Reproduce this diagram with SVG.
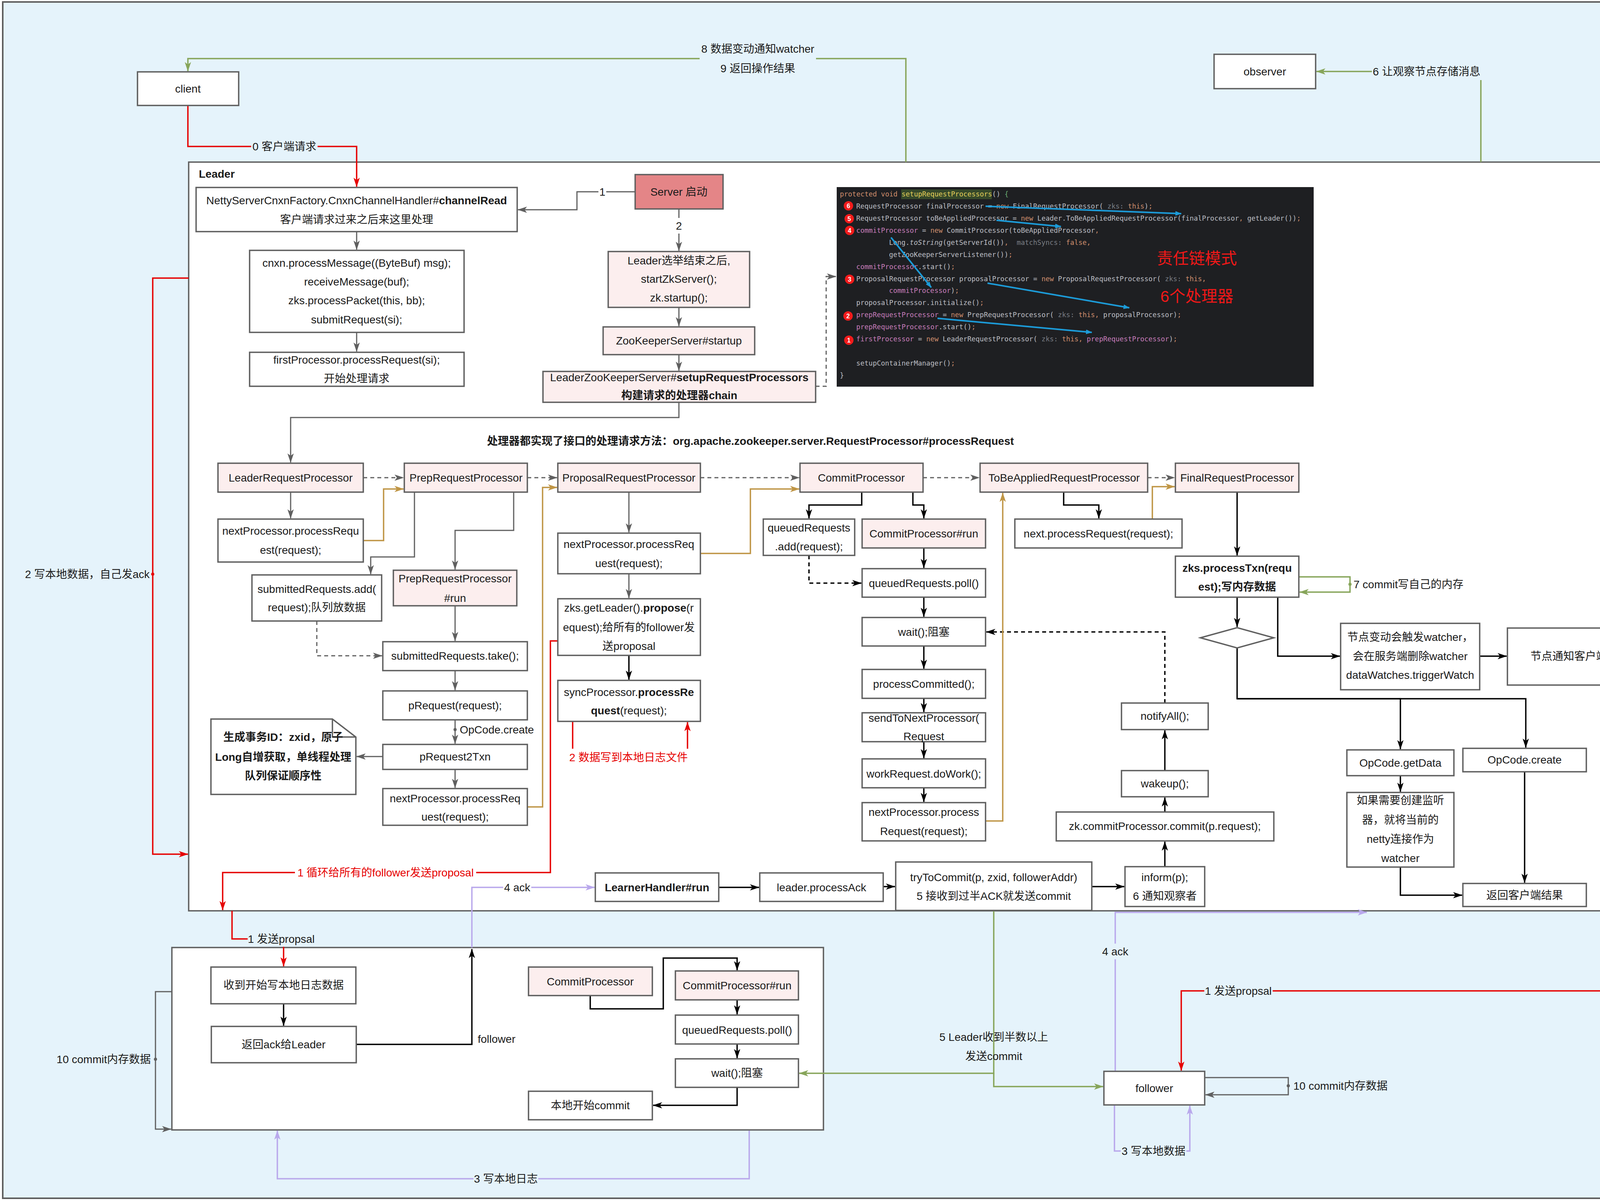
<svg xmlns="http://www.w3.org/2000/svg" width="4382" height="3075" viewBox="0 0 4382 3075">
<style>
.b{fill:#fff;stroke:#5F5F5F;stroke-width:3.5}
.p{fill:#FCEEEE;stroke:#5F5F5F;stroke-width:3.5}
.t{font-family:"Liberation Sans","Noto Sans CJK SC",sans-serif;font-size:28px;fill:#1a1a1a;text-anchor:middle;dominant-baseline:central}
.l{text-anchor:start}
.r{text-anchor:end}
.bd{font-weight:bold}
.red{fill:#E60000}
.cg{stroke:#5F5F5F;stroke-width:3;fill:none}
.ck{stroke:#000;stroke-width:3.5;fill:none}
.cr{stroke:#E60000;stroke-width:3.5;fill:none}
.co{stroke:#BF9545;stroke-width:3.5;fill:none}
.cn{stroke:#87A55A;stroke-width:3.5;fill:none}
.cp{stroke:#B9A8EC;stroke-width:3.5;fill:none}
.cb{stroke:#1C9BD8;stroke-width:4;fill:none}
.d{stroke-dasharray:10 8}
.bgb{fill:#E5F3FB}
.bgw{fill:#fff}
.code{font-family:"DejaVu Sans Mono","Liberation Mono",monospace;font-size:17.5px;fill:#BCBEC4;dominant-baseline:central}
.kw{fill:#CF8E6D}
.fd{fill:#C77DBB}
.hn{fill:#7A7E85}
.mt{fill:#E3CF5A}
.it{font-style:italic}
</style>
<defs>
<marker id="mg" viewBox="0 0 24 16" refX="23" refY="8" markerWidth="24" markerHeight="16" markerUnits="userSpaceOnUse" orient="auto"><path d="M0,0 L24,8 L0,16 L6,8 Z" fill="#5F5F5F"/></marker>
<marker id="mk" viewBox="0 0 24 16" refX="23" refY="8" markerWidth="24" markerHeight="16" markerUnits="userSpaceOnUse" orient="auto"><path d="M0,0 L24,8 L0,16 L6,8 Z" fill="#000"/></marker>
<marker id="mr" viewBox="0 0 24 16" refX="23" refY="8" markerWidth="24" markerHeight="16" markerUnits="userSpaceOnUse" orient="auto"><path d="M0,0 L24,8 L0,16 L6,8 Z" fill="#E60000"/></marker>
<marker id="mo" viewBox="0 0 24 16" refX="23" refY="8" markerWidth="24" markerHeight="16" markerUnits="userSpaceOnUse" orient="auto"><path d="M0,0 L24,8 L0,16 L6,8 Z" fill="#BF9545"/></marker>
<marker id="mn" viewBox="0 0 24 16" refX="23" refY="8" markerWidth="24" markerHeight="16" markerUnits="userSpaceOnUse" orient="auto"><path d="M0,0 L24,8 L0,16 L6,8 Z" fill="#87A55A"/></marker>
<marker id="mp" viewBox="0 0 24 16" refX="23" refY="8" markerWidth="24" markerHeight="16" markerUnits="userSpaceOnUse" orient="auto"><path d="M0,0 L24,8 L0,16 L6,8 Z" fill="#B9A8EC"/></marker>
<marker id="mb" viewBox="0 0 16 12" refX="15" refY="6" markerWidth="16" markerHeight="12" markerUnits="userSpaceOnUse" orient="auto"><path d="M0,0 L16,6 L0,12 Z" fill="#1C9BD8"/></marker>
</defs>

<g id="frame">
<rect x="7" y="5" width="4368" height="3063" fill="#E5F3FB" stroke="#5F5F5F" stroke-width="4"/>
</g>
<g id="leader">
<rect x="483" y="415" width="3670" height="1917" class="b"/>
<text x="509" y="445" class="t l bd">Leader</text>
</g>
<g id="followerBox">
<rect x="440" y="2426" width="1668" height="467" class="b"/>
</g>

<g id="connectors">
<!-- gray -->
<path class="cg" d="M913,593 V639" marker-end="url(#mg)"/>
<path class="cg" d="M913,851 V900" marker-end="url(#mg)"/>
<path class="cg" d="M1626,491 H1477 V537 H1326" marker-end="url(#mg)"/>
<rect x="1532" y="471" width="20" height="40" class="bgw"/>
<text x="1542" y="491" class="t">1</text>
<path class="cg" d="M1738,535 V642" marker-end="url(#mg)"/>
<rect x="1727" y="558" width="22" height="40" class="bgw"/>
<text x="1738" y="578" class="t">2</text>
<path class="cg" d="M1738,787 V835" marker-end="url(#mg)"/>
<path class="cg" d="M1738,908 V949" marker-end="url(#mg)"/>
<path class="cg" d="M1738,1030 V1069 H744 V1184" marker-end="url(#mg)"/>
<path class="cg" d="M744,1260 V1327" marker-end="url(#mg)"/>
<path class="cg" d="M1061,1260 V1426 H949 V1470" marker-end="url(#mg)"/>
<path class="cg" d="M1315,1260 V1358 H1165 V1458" marker-end="url(#mg)"/>
<path class="cg" d="M1165,1551 V1641" marker-end="url(#mg)"/>
<path class="cg" d="M1165,1717 V1767" marker-end="url(#mg)"/>
<path class="cg" d="M1165,1843 V1904" marker-end="url(#mg)"/>
<circle cx="1165" cy="1868" r="4" fill="#5F5F5F"/>
<text x="1177" y="1868" class="t l">OpCode.create</text>
<path class="cg" d="M980,1937 H913" marker-end="url(#mg)"/>
<path class="cg" d="M1165,1970 V2017" marker-end="url(#mg)"/>
<path class="cg" d="M1610,1260 V1363" marker-end="url(#mg)"/>
<path class="cg" d="M1610,1469 V1531" marker-end="url(#mg)"/>
<path class="cg d" d="M930,1223 H1033" marker-end="url(#mg)"/>
<path class="cg d" d="M1350,1223 H1426" marker-end="url(#mg)"/>
<path class="cg d" d="M1793,1223 H2046" marker-end="url(#mg)"/>
<path class="cg d" d="M2363,1223 H2507" marker-end="url(#mg)"/>
<path class="cg d" d="M2938,1223 H3007" marker-end="url(#mg)"/>
<path class="cg d" d="M811,1590 V1679 H978" marker-end="url(#mg)"/>
<path class="cg d" d="M2088,989 H2115 V708 H2140" marker-end="url(#mg)"/>
<!-- black -->
<path class="ck" d="M1610,1678 V1740" marker-end="url(#mk)"/>
<path class="ck" d="M2206,1260 V1293 H2071 V1327" marker-end="url(#mk)"/>
<path class="ck" d="M2337,1260 V1293 H2365 V1327" marker-end="url(#mk)"/>
<path class="ck" d="M2365,1403 V1454" marker-end="url(#mk)"/>
<path class="ck" d="M2365,1529 V1579" marker-end="url(#mk)"/>
<path class="ck" d="M2365,1654 V1712" marker-end="url(#mk)"/>
<path class="ck" d="M2365,1788 V1823" marker-end="url(#mk)"/>
<path class="ck" d="M2365,1899 V1941" marker-end="url(#mk)"/>
<path class="ck" d="M2365,2017 V2053" marker-end="url(#mk)"/>
<path class="ck d" d="M2071,1422 V1493 H2205" marker-end="url(#mk)"/>
<path class="ck d" d="M2982,1800 V1618 H2525" marker-end="url(#mk)"/>
<path class="ck" d="M2982,1973 V1870" marker-end="url(#mk)"/>
<path class="ck" d="M2982,2079 V2042" marker-end="url(#mk)"/>
<path class="ck" d="M2982,2219 V2155" marker-end="url(#mk)"/>
<path class="ck" d="M2723,1260 V1293 H2813 V1327" marker-end="url(#mk)"/>
<path class="ck" d="M3167,1260 V1422" marker-end="url(#mk)"/>
<path class="ck" d="M3167,1529 V1605" marker-end="url(#mk)"/>
<path class="ck" d="M3271,1529 V1680 H3430" marker-end="url(#mk)"/>
<path class="ck" d="M3788,1680 H3857" marker-end="url(#mk)"/>
<path class="ck" d="M3167,1659 V1789 H3585 V1918" marker-end="url(#mk)"/>
<path class="ck" d="M3167,1789 H3906 V1914" marker-end="url(#mk)"/>
<path class="ck" d="M3585,1986 V2027" marker-end="url(#mk)"/>
<path class="ck" d="M3585,2220 V2292 H3743" marker-end="url(#mk)"/>
<path class="ck" d="M3903,1976 V2260" marker-end="url(#mk)"/>
<path class="ck" d="M1840,2272 H1943" marker-end="url(#mk)"/>
<path class="ck" d="M2261,2270 H2291" marker-end="url(#mk)"/>
<path class="ck" d="M2795,2270 H2878" marker-end="url(#mk)"/>
<path class="ck" d="M726,2570 V2626" marker-end="url(#mk)"/>
<path class="ck" d="M912,2674 H1208 V2430" marker-end="url(#mk)"/>
<text x="1223" y="2660" class="t l">follower</text>
<path class="ck" d="M1511,2549 V2583 H1698 V2453 H1887 V2484" marker-end="url(#mk)"/>
<path class="ck" d="M1887,2560 V2597" marker-end="url(#mk)"/>
<path class="ck" d="M1887,2673 V2709" marker-end="url(#mk)"/>
<path class="ck" d="M1887,2784 V2830 H1672" marker-end="url(#mk)"/>
<!-- gold -->
<path class="co" d="M930,1384 H982 V1252 H1033" marker-end="url(#mo)"/>
<path class="co" d="M1350,2066 H1389 V1248 H1426" marker-end="url(#mo)"/>
<path class="co" d="M1793,1417 H1921 V1252 H2046" marker-end="url(#mo)"/>
<path class="co" d="M2523,2102 H2567 V1262" marker-end="url(#mo)"/>
<path class="co" d="M2950,1329 V1246 H3007" marker-end="url(#mo)"/>
<!-- red -->
<path class="cr" d="M481,270 V375 H913 V478" marker-end="url(#mr)"/>
<rect x="643" y="355" width="170" height="40" class="bgb"/>
<text x="728" y="375" class="t">0 客户端请求</text>
<path class="cr" d="M483,712 H391 V2187 H481" marker-end="url(#mr)"/>
<circle cx="391" cy="1470" r="4" fill="#E60000"/>
<text x="383" y="1470" class="t r">2 写本地数据，自己发ack</text>
<path class="cr" d="M1466,1847 V1939 H1760 V1849" marker-end="url(#mr)"/>
<rect x="1456" y="1917" width="306" height="44" class="bgw"/>
<text x="1609" y="1939" class="t red">2 数据写到本地日志文件</text>
<path class="cr" d="M1428,1641 H1409 V2234 H570 V2330" marker-end="url(#mr)"/>
<rect x="755" y="2214" width="464" height="40" class="bgw"/>
<text x="987" y="2234" class="t red">1 循环给所有的follower发送proposal</text>
<path class="cr" d="M594,2332 V2404 H726 V2474" marker-end="url(#mr)"/>
<rect x="634" y="2384" width="173" height="40" class="bgb"/>
<text x="720" y="2404" class="t">1 发送propsal</text>
<path class="cr" d="M4100,2334 V2537 H3024 V2741" marker-end="url(#mr)"/>
<rect x="3083" y="2517" width="175" height="40" class="bgb"/>
<text x="3170" y="2537" class="t">1 发送propsal</text>
<!-- green -->
<path class="cn" d="M2319,415 V150 H481 V182" marker-end="url(#mn)"/>
<rect x="1791" y="103" width="298" height="96" class="bgb"/>
<text x="1940" y="125" class="t">8 数据变动通知watcher</text>
<text x="1940" y="175" class="t">9 返回操作结果</text>
<path class="cn" d="M3791,415 V183 H3370" marker-end="url(#mn)"/>
<rect x="3512" y="163" width="281" height="42" class="bgb"/>
<text x="3652" y="183" class="t">6 让观察节点存储消息</text>
<path class="cn" d="M3325,1477 H3456 V1516 H3327" marker-end="url(#mn)"/>
<circle cx="3456" cy="1496" r="4" fill="#87A55A"/>
<text x="3465" y="1496" class="t l">7 commit写自己的内存</text>
<path class="cn" d="M2544,2333 V2748 H2046" marker-end="url(#mn)"/>
<path class="cn" d="M2544,2748 V2782 H2824" marker-end="url(#mn)"/>
<text x="2544" y="2655" class="t">5 Leader收到半数以上</text>
<text x="2544" y="2704" class="t">发送commit</text>
<!-- purple -->
<path class="cp" d="M1208,2426 V2272 H1522" marker-end="url(#mp)"/>
<rect x="1288" y="2252" width="72" height="40" class="bgw"/>
<text x="1324" y="2272" class="t">4 ack</text>
<path class="cp" d="M1918,2895 V3018 H710 V2895" marker-end="url(#mp)"/>
<rect x="1212" y="2998" width="166" height="40" class="bgb"/>
<text x="1295" y="3018" class="t">3 写本地日志</text>
<path class="cp" d="M2855,2743 V2336 H3499" marker-end="url(#mp)"/>
<rect x="2818" y="2416" width="74" height="40" class="bgb"/>
<text x="2855" y="2436" class="t">4 ack</text>
<path class="cp" d="M2853,2829 V2947 H3046 V2831" marker-end="url(#mp)"/>
<rect x="2869" y="2927" width="168" height="40" class="bgb"/>
<text x="2953" y="2947" class="t">3 写本地数据</text>
<!-- gray loops -->
<path class="cg" d="M440,2539 H398 V2891 H438" marker-end="url(#mg)"/>
<circle cx="398" cy="2712" r="4" fill="#5F5F5F"/>
<text x="386" y="2712" class="t r">10 commit内存数据</text>
<path class="cg" d="M3084,2759 H3298 V2803 H3086" marker-end="url(#mg)"/>
<circle cx="3298" cy="2780" r="4" fill="#5F5F5F"/>
<text x="3311" y="2780" class="t l">10 commit内存数据</text>
</g>

<g id="client"><rect x="352" y="184" width="259" height="86" class="b"/><text x="481" y="227" class="t">client</text></g>
<g id="observer"><rect x="3108" y="139" width="260" height="88" class="b"/><text x="3238" y="183" class="t">observer</text></g>
<g id="netty"><rect x="502" y="480" width="822" height="113" class="b"/><text x="913" y="513" class="t">NettyServerCnxnFactory.CnxnChannelHandler#<tspan class="bd">channelRead</tspan></text><text x="913" y="562" class="t">客户端请求过来之后来这里处理</text></g>
<g id="cnxn"><rect x="639" y="641" width="549" height="210" class="b"/><text x="913" y="673" class="t">cnxn.processMessage((ByteBuf) msg);</text><text x="913" y="721" class="t">receiveMessage(buf);</text><text x="913" y="769" class="t">zks.processPacket(this, bb);</text><text x="913" y="818" class="t">submitRequest(si);</text></g>
<g id="firstProcessor"><rect x="639" y="902" width="549" height="87" class="b"/><text x="913" y="921" class="t">firstProcessor.processRequest(si);</text><text x="913" y="969" class="t">开始处理请求</text></g>
<g id="server"><rect x="1626" y="447" width="225" height="88" fill="#E48587" stroke="#5F5F5F" stroke-width="3.5"/><text x="1738" y="491" class="t">Server 启动</text></g>
<g id="leaderElect"><rect x="1557" y="644" width="362" height="143" class="p"/><text x="1738" y="667" class="t">Leader选举结束之后,</text><text x="1738" y="714" class="t">startZkServer();</text><text x="1738" y="762" class="t">zk.startup();</text></g>
<g id="zkStartup"><rect x="1544" y="837" width="388" height="71" class="p"/><text x="1738" y="872" class="t">ZooKeeperServer#startup</text></g>
<g id="setup"><rect x="1390" y="951" width="698" height="79" class="p"/><text x="1739" y="966" class="t">LeaderZooKeeperServer#<tspan class="bd">setupRequestProcessors</tspan></text><text x="1739" y="1012" class="t bd">构建请求的处理器chain</text></g>

<g id="code">
<rect x="2142" y="479" width="1221" height="511" fill="#1E1F22"/>
<rect x="2307" y="485" width="232" height="25" fill="#36492A"/>
<text x="2150" y="497" class="code" xml:space="preserve"><tspan class="kw">protected void </tspan><tspan class="mt">setupRequestProcessors</tspan>() <tspan fill="#6AAB73">{</tspan></text>
<text x="2192" y="528" class="code" xml:space="preserve">RequestProcessor finalProcessor = <tspan class="kw">new </tspan>FinalRequestProcessor(<tspan class="hn"> zks: </tspan><tspan class="kw">this</tspan>)<tspan class="kw">;</tspan></text>
<text x="2192" y="559" class="code" xml:space="preserve">RequestProcessor toBeAppliedProcessor = <tspan class="kw">new </tspan>Leader.ToBeAppliedRequestProcessor(finalProcessor<tspan class="kw">, </tspan>getLeader())<tspan class="kw">;</tspan></text>
<text x="2192" y="590" class="code" xml:space="preserve"><tspan class="fd">commitProcessor</tspan> = <tspan class="kw">new </tspan>CommitProcessor(toBeAppliedProcessor<tspan class="kw">,</tspan></text>
<text x="2276" y="621" class="code" xml:space="preserve">Long.<tspan class="it">toString</tspan>(getServerId())<tspan class="kw">, </tspan><tspan class="hn"> matchSyncs: </tspan><tspan class="kw">false,</tspan></text>
<text x="2276" y="652" class="code" xml:space="preserve">getZooKeeperServerListener())<tspan class="kw">;</tspan></text>
<text x="2192" y="683" class="code" xml:space="preserve"><tspan class="fd">commitProcessor</tspan>.start()<tspan class="kw">;</tspan></text>
<text x="2192" y="714" class="code" xml:space="preserve">ProposalRequestProcessor proposalProcessor = <tspan class="kw">new </tspan>ProposalRequestProcessor(<tspan class="hn"> zks: </tspan><tspan class="kw">this,</tspan></text>
<text x="2276" y="744" class="code" xml:space="preserve"><tspan class="fd">commitProcessor</tspan>)<tspan class="kw">;</tspan></text>
<text x="2192" y="775" class="code" xml:space="preserve">proposalProcessor.initialize()<tspan class="kw">;</tspan></text>
<text x="2192" y="806" class="code" xml:space="preserve"><tspan class="fd">prepRequestProcessor</tspan> = <tspan class="kw">new </tspan>PrepRequestProcessor(<tspan class="hn"> zks: </tspan><tspan class="kw">this, </tspan>proposalProcessor)<tspan class="kw">;</tspan></text>
<text x="2192" y="837" class="code" xml:space="preserve"><tspan class="fd">prepRequestProcessor</tspan>.start()<tspan class="kw">;</tspan></text>
<text x="2192" y="868" class="code" xml:space="preserve"><tspan class="fd">firstProcessor</tspan> = <tspan class="kw">new </tspan>LeaderRequestProcessor(<tspan class="hn"> zks: </tspan><tspan class="kw">this, </tspan><tspan class="fd">prepRequestProcessor</tspan>)<tspan class="kw">;</tspan></text>
<text x="2192" y="930" class="code" xml:space="preserve">setupContainerManager()<tspan class="kw">;</tspan></text>
<text x="2150" y="961" class="code" fill="#6AAB73">}</text>
<g font-family="Liberation Sans, sans-serif" font-size="16" font-weight="bold" fill="#fff" text-anchor="middle" dominant-baseline="central">
<circle cx="2172" cy="527" r="12" fill="#F21B1B"/><text x="2172" y="527">6</text>
<circle cx="2174" cy="560" r="12" fill="#F21B1B"/><text x="2174" y="560">5</text>
<circle cx="2175" cy="590" r="12" fill="#F21B1B"/><text x="2175" y="590">4</text>
<circle cx="2175" cy="715" r="12" fill="#F21B1B"/><text x="2175" y="715">3</text>
<circle cx="2171" cy="809" r="12" fill="#F21B1B"/><text x="2171" y="809">2</text>
<circle cx="2173" cy="871" r="12" fill="#F21B1B"/><text x="2173" y="871">1</text>
</g>
<path class="cb" d="M2523,528 L3024,547" marker-end="url(#mb)"/>
<path class="cb" d="M2551,564 L2716,580" marker-end="url(#mb)"/>
<path class="cb" d="M2281,608 L2384,736" marker-end="url(#mb)"/>
<path class="cb" d="M2528,725 L2891,788" marker-end="url(#mb)"/>
<path class="cb" d="M2400,815 L2795,851" marker-end="url(#mb)"/>
<text x="3064" y="662" class="t" style="font-size:41px;fill:#F01818">责任链模式</text>
<text x="3064" y="759" class="t" style="font-size:41px;fill:#F01818">6个处理器</text>
</g>

<g id="title"><text x="1921" y="1129" class="t bd">处理器都实现了接口的处理请求方法：org.apache.zookeeper.server.RequestProcessor#processRequest</text></g>

<g id="LeaderRequestProcessor"><rect x="558" y="1186" width="372" height="74" class="p"/><text x="744" y="1223" class="t">LeaderRequestProcessor</text></g>
<g id="PrepRequestProcessor"><rect x="1035" y="1186" width="315" height="74" class="p"/><text x="1193" y="1223" class="t">PrepRequestProcessor</text></g>
<g id="ProposalRequestProcessor"><rect x="1428" y="1186" width="365" height="74" class="p"/><text x="1610" y="1223" class="t">ProposalRequestProcessor</text></g>
<g id="CommitProcessor"><rect x="2048" y="1186" width="315" height="74" class="p"/><text x="2205" y="1223" class="t">CommitProcessor</text></g>
<g id="ToBeAppliedRequestProcessor"><rect x="2509" y="1186" width="429" height="74" class="p"/><text x="2724" y="1223" class="t">ToBeAppliedRequestProcessor</text></g>
<g id="FinalRequestProcessor"><rect x="3009" y="1186" width="316" height="74" class="p"/><text x="3167" y="1223" class="t">FinalRequestProcessor</text></g>

<g id="lrpNext"><rect x="558" y="1329" width="372" height="110" class="b"/><text x="744" y="1359" class="t">nextProcessor.processRequ</text><text x="744" y="1408" class="t">est(request);</text></g>
<g id="subAdd"><rect x="645" y="1472" width="332" height="118" class="b"/><text x="811" y="1508" class="t">submittedRequests.add(</text><text x="811" y="1555" class="t">request);队列放数据</text></g>
<g id="prepRun"><rect x="1007" y="1460" width="316" height="91" class="p"/><text x="1165" y="1481" class="t">PrepRequestProcessor</text><text x="1165" y="1531" class="t">#run</text></g>
<g id="take"><rect x="980" y="1643" width="370" height="74" class="b"/><text x="1165" y="1679" class="t">submittedRequests.take();</text></g>
<g id="pRequest"><rect x="980" y="1769" width="370" height="74" class="b"/><text x="1165" y="1806" class="t">pRequest(request);</text></g>
<g id="pRequest2Txn"><rect x="980" y="1906" width="370" height="64" class="b"/><text x="1165" y="1937" class="t">pRequest2Txn</text></g>
<g id="note"><path d="M540,1841 H851 L911,1887 V2034 H540 Z" class="b"/><path d="M851,1841 V1887 H911" fill="none" stroke="#5F5F5F" stroke-width="3.5"/><text x="725" y="1887" class="t bd">生成事务ID：zxid，原子</text><text x="725" y="1938" class="t bd">Long自增获取，单线程处理</text><text x="725" y="1986" class="t bd">队列保证顺序性</text></g>
<g id="prepNext"><rect x="980" y="2019" width="370" height="94" class="b"/><text x="1165" y="2044" class="t">nextProcessor.processReq</text><text x="1165" y="2091" class="t">uest(request);</text></g>
<g id="propNext"><rect x="1428" y="1365" width="365" height="104" class="b"/><text x="1610" y="1393" class="t">nextProcessor.processReq</text><text x="1610" y="1442" class="t">uest(request);</text></g>
<g id="propose"><rect x="1428" y="1533" width="365" height="145" class="b"/><text x="1610" y="1556" class="t">zks.getLeader().<tspan class="bd">propose</tspan>(r</text><text x="1610" y="1606" class="t">equest);给所有的follower发</text><text x="1610" y="1654" class="t">送proposal</text></g>
<g id="sync"><rect x="1428" y="1742" width="365" height="105" class="b"/><text x="1610" y="1772" class="t">syncProcessor.<tspan class="bd">processRe</tspan></text><text x="1610" y="1819" class="t"><tspan class="bd">quest</tspan>(request);</text></g>
<g id="qAdd"><rect x="1954" y="1329" width="234" height="93" class="b"/><text x="2071" y="1351" class="t">queuedRequests</text><text x="2071" y="1399" class="t">.add(request);</text></g>
<g id="commitRun"><rect x="2207" y="1329" width="316" height="74" class="p"/><text x="2365" y="1366" class="t">CommitProcessor#run</text></g>
<g id="poll"><rect x="2207" y="1456" width="316" height="73" class="b"/><text x="2365" y="1493" class="t">queuedRequests.poll()</text></g>
<g id="wait"><rect x="2207" y="1581" width="316" height="73" class="b"/><text x="2365" y="1618" class="t">wait();阻塞</text></g>
<g id="processCommitted"><rect x="2207" y="1714" width="316" height="74" class="b"/><text x="2365" y="1751" class="t">processCommitted();</text></g>
<g id="sendNext"><rect x="2207" y="1825" width="316" height="74" class="b"/><text x="2365" y="1838" class="t">sendToNextProcessor(</text><text x="2365" y="1885" class="t">Request</text></g>
<g id="doWork"><rect x="2207" y="1943" width="316" height="74" class="b"/><text x="2365" y="1981" class="t">workRequest.doWork();</text></g>
<g id="commitNext"><rect x="2207" y="2055" width="316" height="98" class="b"/><text x="2365" y="2079" class="t">nextProcessor.process</text><text x="2365" y="2128" class="t">Request(request);</text></g>
<g id="notifyAll"><rect x="2871" y="1800" width="222" height="68" class="b"/><text x="2982" y="1833" class="t">notifyAll();</text></g>
<g id="wakeup"><rect x="2871" y="1973" width="222" height="67" class="b"/><text x="2982" y="2006" class="t">wakeup();</text></g>
<g id="zkCommit"><rect x="2704" y="2079" width="557" height="74" class="b"/><text x="2982" y="2115" class="t">zk.commitProcessor.commit(p.request);</text></g>
<g id="inform"><rect x="2880" y="2219" width="204" height="102" class="b"/><text x="2982" y="2246" class="t">inform(p);</text><text x="2982" y="2294" class="t">6 通知观察者</text></g>
<g id="tbNext"><rect x="2598" y="1329" width="428" height="74" class="b"/><text x="2812" y="1366" class="t">next.processRequest(request);</text></g>
<g id="processTxn"><rect x="3009" y="1424" width="316" height="105" class="b"/><text x="3167" y="1454" class="t bd">zks.processTxn(requ</text><text x="3167" y="1502" class="t bd">est);写内存数据</text></g>
<g id="diamond"><polygon points="3073,1633 3167,1607 3261,1633 3167,1659" class="b"/></g>
<g id="watcher"><rect x="3432" y="1596" width="356" height="170" class="b"/><text x="3610" y="1631" class="t">节点变动会触发watcher，</text><text x="3610" y="1680" class="t">会在服务端删除watcher</text><text x="3610" y="1728" class="t">dataWatches.triggerWatch</text></g>
<g id="notifyClient"><rect x="3859" y="1608" width="315" height="146" fill="none" stroke="#5F5F5F" stroke-width="3.5"/><text x="4016" y="1680" class="t">节点通知客户端</text></g>
<g id="getData"><rect x="3448" y="1920" width="274" height="66" class="b"/><text x="3585" y="1953" class="t">OpCode.getData</text></g>
<g id="create"><rect x="3745" y="1916" width="316" height="60" class="b"/><text x="3903" y="1945" class="t">OpCode.create</text></g>
<g id="ifWatch"><rect x="3448" y="2029" width="274" height="191" class="b"/><text x="3585" y="2049" class="t">如果需要创建监听</text><text x="3585" y="2099" class="t">器，就将当前的</text><text x="3585" y="2148" class="t">netty连接作为</text><text x="3585" y="2197" class="t">watcher</text></g>
<g id="returnClient"><rect x="3745" y="2262" width="316" height="59" class="b"/><text x="3903" y="2292" class="t">返回客户端结果</text></g>
<g id="learner"><rect x="1524" y="2235" width="316" height="73" class="b"/><text x="1682" y="2272" class="t bd">LearnerHandler#run</text></g>
<g id="processAck"><rect x="1945" y="2235" width="316" height="73" class="b"/><text x="2103" y="2272" class="t">leader.processAck</text></g>
<g id="tryToCommit"><rect x="2293" y="2207" width="502" height="124" class="b"/><text x="2544" y="2246" class="t">tryToCommit(p, zxid, followerAddr)</text><text x="2544" y="2294" class="t">5 接收到过半ACK就发送commit</text></g>
<g id="recv"><rect x="540" y="2476" width="371" height="94" class="b"/><text x="726" y="2522" class="t">收到开始写本地日志数据</text></g>
<g id="retAck"><rect x="541" y="2628" width="371" height="93" class="b"/><text x="726" y="2674" class="t">返回ack给Leader</text></g>
<g id="fCommitProcessor"><rect x="1353" y="2476" width="317" height="73" class="p"/><text x="1511" y="2513" class="t">CommitProcessor</text></g>
<g id="fRun"><rect x="1729" y="2486" width="315" height="74" class="p"/><text x="1887" y="2523" class="t">CommitProcessor#run</text></g>
<g id="fPoll"><rect x="1729" y="2599" width="315" height="74" class="b"/><text x="1887" y="2637" class="t">queuedRequests.poll()</text></g>
<g id="fWait"><rect x="1729" y="2711" width="315" height="73" class="b"/><text x="1887" y="2747" class="t">wait();阻塞</text></g>
<g id="fCommit"><rect x="1353" y="2794" width="317" height="73" class="b"/><text x="1511" y="2830" class="t">本地开始commit</text></g>
<g id="follower"><rect x="2826" y="2743" width="258" height="86" class="b"/><text x="2955" y="2786" class="t">follower</text></g>
</svg>
